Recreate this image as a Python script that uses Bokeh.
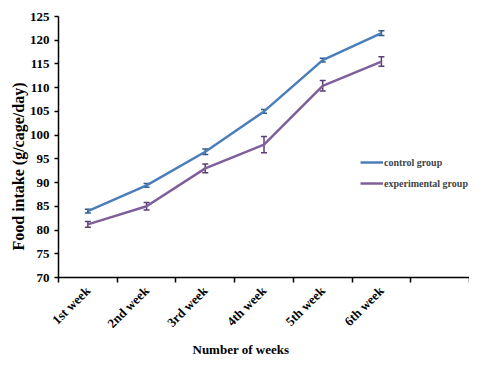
import math
from bokeh.plotting import figure
from bokeh.models import (FixedTicker, Range1d, Legend, LegendItem, Whisker,
                          ColumnDataSource, TeeHead, Title)
from bokeh.embed import file_html
from bokeh.resources import INLINE

weeks = ["1st week", "2nd week", "3rd week", "4th week", "5th week", "6th week"]
control = [84.0, 89.4, 96.5, 105.0, 115.8, 121.5]
control_err = [0.4, 0.4, 0.6, 0.4, 0.4, 0.5]
experimental = [81.2, 85.0, 93.0, 98.0, 110.4, 115.5]
experimental_err = [0.6, 0.8, 0.9, 1.7, 1.1, 1.0]
y_ticks = [70, 75, 80, 85, 90, 95, 100, 105, 110, 115, 120, 125]

n_slots = len(weeks) + 1
xs = [i + 0.5 for i in range(len(weeks))]

FONT = "Liberation Serif"
C_BLUE = "#4A7EBB"
C_PURPLE = "#7E5F9A"

p = figure(width=469, height=356, output_backend="svg", toolbar_location=None,
           x_range=Range1d(0, n_slots), y_range=Range1d(y_ticks[0], y_ticks[-1]),
           min_border_left=58, min_border_right=0, min_border_top=16,
           min_border_bottom=72)
p.outline_line_color = None
p.grid.visible = False
p.background_fill_color = "white"

src = ColumnDataSource(dict(
    x=xs, c=control,
    c_lo=[v - e for v, e in zip(control, control_err)],
    c_hi=[v + e for v, e in zip(control, control_err)],
    e=experimental,
    e_lo=[v - e for v, e in zip(experimental, experimental_err)],
    e_hi=[v + e for v, e in zip(experimental, experimental_err)],
))

r1 = p.line("x", "c", source=src, line_color=C_BLUE, line_width=2.5)
r2 = p.line("x", "e", source=src, line_color=C_PURPLE, line_width=2.5)

for lo, hi, col in (("c_lo", "c_hi", "#2f5a8a"), ("e_lo", "e_hi", "#5a3f78")):
    w = Whisker(base="x", lower=lo, upper=hi, source=src, line_color=col,
                line_width=1.5,
                upper_head=TeeHead(size=6, line_color=col, line_width=1.5),
                lower_head=TeeHead(size=6, line_color=col, line_width=1.5))
    p.add_layout(w)

xa = p.xaxis[0]
xa.ticker = FixedTicker(ticks=xs, minor_ticks=list(range(n_slots + 1)))
xa.major_label_overrides = {x: w for x, w in zip(xs, weeks)}
xa.major_tick_line_color = None
xa.major_tick_out = 0
xa.major_tick_in = 0
xa.minor_tick_in = 0
xa.minor_tick_out = 5
xa.minor_tick_line_color = "black"
xa.minor_tick_line_width = 1.5
xa.major_label_orientation = math.pi / 4
xa.major_label_standoff = 6
xa.major_label_text_font = FONT
xa.major_label_text_font_style = "bold"
xa.major_label_text_font_size = "13px"
xa.major_label_text_color = "black"

ya = p.yaxis[0]
ya.ticker = FixedTicker(ticks=y_ticks, minor_ticks=[])
ya.major_tick_in = 0
ya.major_tick_out = 4
ya.major_tick_line_width = 1.5
ya.major_label_text_font = FONT
ya.major_label_text_font_style = "bold"
ya.major_label_text_font_size = "13px"
ya.major_label_text_color = "black"

for ax in (xa, ya):
    ax.axis_line_color = "black"
    ax.axis_line_width = 1.5

yt = Title(text="Food intake (g/cage/day)", align="left", offset=27,
           text_font=FONT, text_font_style="bold", text_font_size="16px",
           text_color="black", standoff=0)
p.add_layout(yt, "left")

xt = Title(text="Number of weeks", align="left", offset=134,
           text_font=FONT, text_font_style="bold", text_font_size="13px",
           text_color="black", standoff=0)
p.add_layout(xt, "below")

legend = Legend(items=[LegendItem(label="control group", renderers=[r1]),
                       LegendItem(label="experimental group", renderers=[r2])],
                location=(302, 88), border_line_color=None,
                background_fill_alpha=0, glyph_width=23, glyph_height=12,
                label_text_font=FONT, label_text_font_style="bold",
                label_text_font_size="10px", label_standoff=1, spacing=9,
                padding=2, margin=0)
p.add_layout(legend)

open("out.html", "w").write(file_html(p, INLINE))
